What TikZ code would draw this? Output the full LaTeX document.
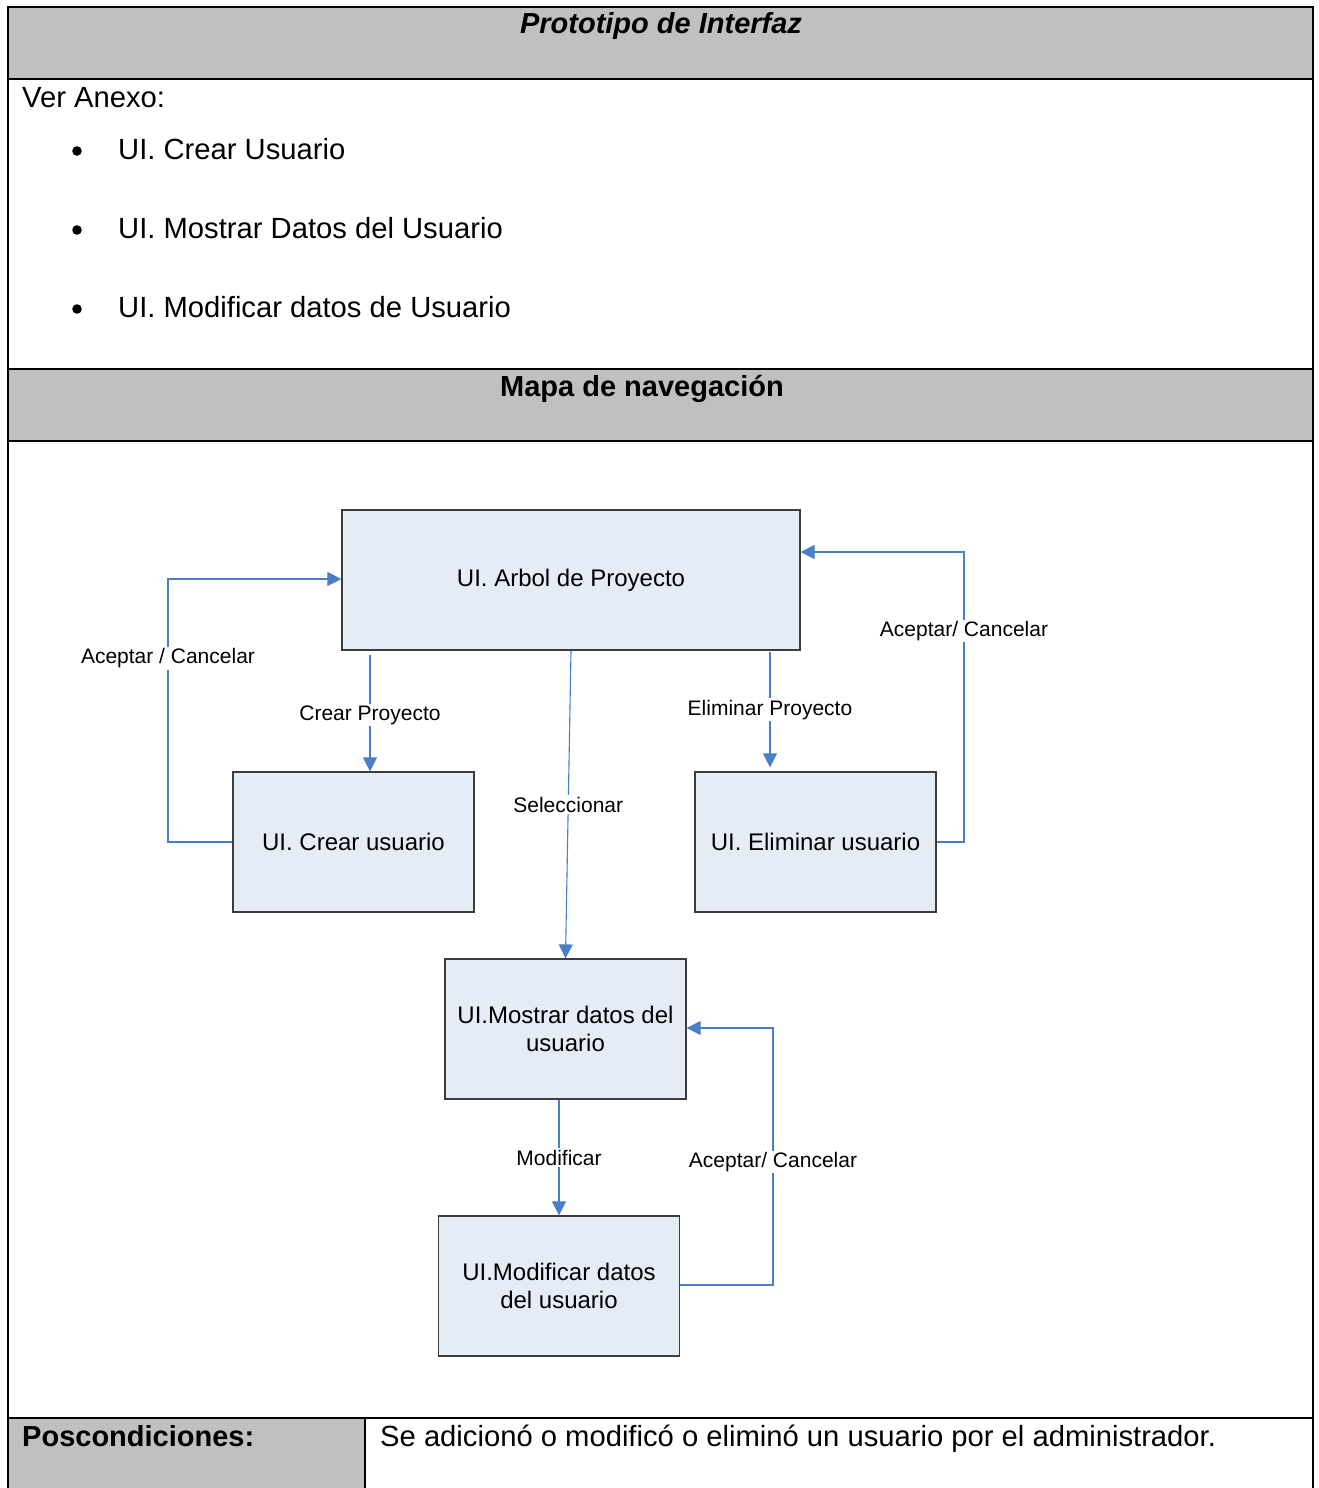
\documentclass[tikz,border=0pt]{standalone}
\usepackage{fontspec}
\setmainfont{Liberation Sans}
\usetikzlibrary{arrows.meta}
\definecolor{hdrgray}{RGB}{192,192,192}
\definecolor{boxfill}{RGB}{230,236,246}
\definecolor{boxline}{RGB}{60,60,60}
\definecolor{flow}{RGB}{74,126,199}

\begin{document}
\begin{tikzpicture}[x=1pt,y=-1pt,
  rule/.style={line width=2pt, line cap=rect},
  celltext/.style={inner sep=0pt, anchor=base west, font=\fontsize{29.2}{34}\selectfont},
  headtext/.style={inner sep=0pt, anchor=base, font=\fontsize{29}{34}\selectfont\bfseries},
  screen/.style={draw=boxline, fill=boxfill, line width=1.2pt, minimum width=241pt,
    minimum height=140pt, align=center, inner sep=0pt,
    font=\fontsize{24}{28.5}\selectfont},
  flowline/.style={draw=flow, line width=1.1pt, -{Triangle[length=14pt,width=14pt]}},
  flowlabel/.style={fill=white, inner sep=1.5pt, font=\fontsize{21}{24}\selectfont}]

\useasboundingbox (0,0) rectangle (1318,1488);

% table background cells
\fill[hdrgray] (8,7) rectangle (1313,79);
\fill[hdrgray] (8,369) rectangle (1313,441);
\fill[hdrgray] (8,1418) rectangle (365,1488);

% table rules
\draw[rule] (8,1488) -- (8,7) -- (1313,7) -- (1313,1488);
\draw[rule] (8,79) -- (1313,79);
\draw[rule] (8,369) -- (1313,369);
\draw[rule] (8,441) -- (1313,441);
\draw[rule] (8,1418) -- (1313,1418);
\draw[rule] (365,1418) -- (365,1488);

% headings
\node[headtext, font=\fontsize{29}{34}\selectfont\bfseries\itshape] (h1) at (661,34) {Prototipo de Interfaz};
\node[headtext] (h2) at (642,396) {Mapa de navegación};

% interface prototypes list
\node[celltext] (anexo) at (22,107) {Ver Anexo:};
\fill (77,151) circle (4.8pt);
\fill (77,230) circle (4.8pt);
\fill (77,309) circle (4.8pt);
\node[celltext] (ui1) at (118,159) {UI. Crear Usuario};
\node[celltext] (ui2) at (118,238) {UI. Mostrar Datos del Usuario};
\node[celltext] (ui3) at (118,317) {UI. Modificar datos de Usuario};

% postconditions row
\node[celltext, font=\fontsize{29}{34}\selectfont\bfseries] (post) at (22,1446) {Poscondiciones:};
\node[celltext] (postval) at (380,1446) {Se adicionó o modificó o eliminó un usuario por el administrador.};

% navigation map screens
\node[screen, minimum width=458pt] (arbol) at (571,580) {UI. Arbol de Proyecto};
\node[screen] (crear) at (353.5,842) {UI. Crear usuario};
\node[screen] (eliminar) at (815.5,842) {UI. Eliminar usuario};
\node[screen] (mostrar) at (565.5,1029) {UI.Mostrar datos del\\usuario};
\node[screen] (modif) at (559,1286) {UI.Modificar datos\\del usuario};

% connector end points
\coordinate (c1a) at (168,842);
\coordinate (c1b) at (168,579);
\coordinate (e1a) at (964,842);
\coordinate (e1b) at (964,552);
\coordinate (m1a) at (773,1285);
\coordinate (m1b) at (773,1028);
\coordinate (cp) at (370,655);
\coordinate (ep) at (770,652);

% transitions
\draw[flowline] (crear.west |- c1a) -- (c1a) -- (c1b)
  node[flowlabel, pos=0.71, yshift=-3pt] {Aceptar / Cancelar} -- (arbol.west |- c1b);
\draw[flowline] (cp) -- (cp |- crear.north)
  node[flowlabel, pos=0.5, yshift=-2pt] {Crear Proyecto};
\draw[flowline] (arbol.south) -- (mostrar.north)
  node[flowlabel, pos=0.50] {Seleccionar};
\draw[flowline] (ep) -- ([yshift=4pt]ep |- eliminar.north)
  node[flowlabel, pos=0.5] {Eliminar Proyecto};
\draw[flowline] (eliminar.east |- e1a) -- (e1a) -- (e1b)
  node[flowlabel, pos=0.734, yshift=-2pt] {Aceptar/ Cancelar} -- (arbol.east |- e1b);
\draw[flowline] (mostrar.south -| modif.north) -- (modif.north)
  node[flowlabel, pos=0.5] {Modificar};
\draw[flowline] (modif.east |- m1a) -- (m1a) -- (m1b)
  node[flowlabel, pos=0.486, yshift=-2pt] {Aceptar/ Cancelar} -- (mostrar.east |- m1b);

\end{tikzpicture}
\end{document}
